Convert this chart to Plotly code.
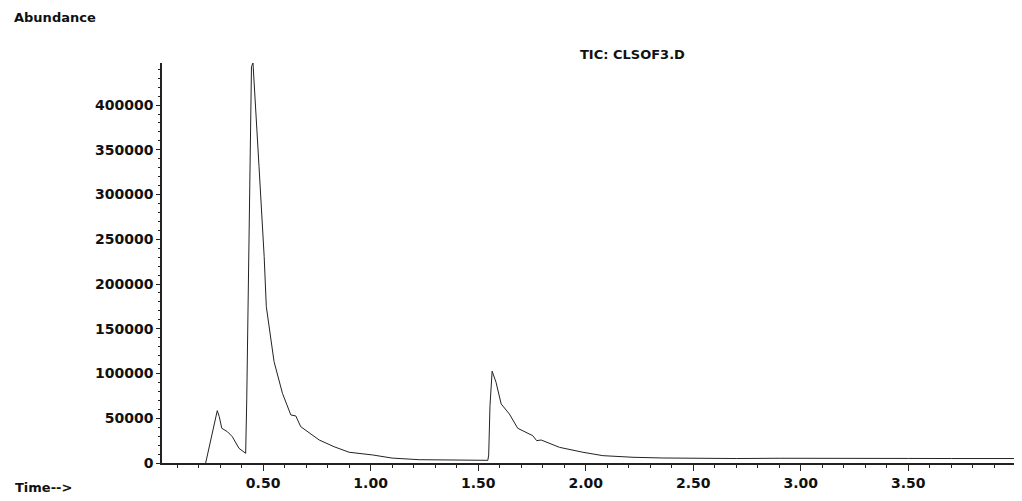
import plotly.graph_objects as go

# Retention time (min) and abundance
time_min = [0.233, 0.287, 0.296, 0.308, 0.334, 0.357, 0.388, 0.419, 0.424, 0.432, 0.439, 0.446,
            0.453, 0.460, 0.469, 0.481, 0.505, 0.515, 0.551, 0.590, 0.629, 0.652, 0.675, 0.730,
            0.761, 0.830, 0.900, 1.009, 1.100, 1.226, 1.300, 1.400, 1.500, 1.545, 1.549, 1.555,
            1.565, 1.583, 1.607, 1.645, 1.684, 1.754, 1.772, 1.793, 1.878, 1.987, 2.080, 2.220,
            2.358, 2.500, 2.700, 2.900, 3.100, 3.300, 3.500, 3.700, 3.900, 4.010]
abundance = [0, 58500, 52000, 38800, 35000, 29400, 16400, 10800, 70500, 219600, 346800, 443000,
             447000, 420000, 383700, 331500, 230800, 174800, 113300, 77900, 53700, 52600, 40600, 31300,
             25700, 18200, 12000, 9000, 5500, 3700, 3500, 3200, 3000, 3000, 9000, 64000,
             102600, 90300, 66000, 54800, 38800, 30500, 25000, 25700, 17500, 12000, 8200, 6400,
             5600, 5200, 5000, 5300, 5000, 5200, 5100, 5000, 5200, 5000]

y_ticks = [0, 50000, 100000, 150000, 200000, 250000, 300000, 350000, 400000]
x_ticks = [0.5, 1.0, 1.5, 2.0, 2.5, 3.0, 3.5]
x_labels = ["0.50", "1.00", "1.50", "2.00", "2.50", "3.00", "3.50"]

font_main = "DejaVu Sans"
ink = "#111111"
tick_font = dict(family=font_main, size=14, color=ink, weight="bold")

fig = go.Figure()
fig.add_trace(go.Scatter(x=time_min, y=abundance, mode="lines",
                         line=dict(color="#222222", width=1), showlegend=False,
                         hoverinfo="skip"))

# page body has an 8px margin, so the figure is sized and offset for it
fig.update_layout(
    width=1014, height=493,
    margin=dict(l=154, r=4, t=55, b=38),
    paper_bgcolor="white", plot_bgcolor="white",
    font=dict(family=font_main, size=12, color=ink),
    xaxis=dict(range=[0.03, 4.01], tickmode="array", tickvals=x_ticks, ticktext=x_labels,
               showline=True, linecolor="#222222", linewidth=1.5, ticks="outside",
               ticklen=6, tickcolor="#222222", showgrid=False, zeroline=False,
               minor=dict(tickmode="linear", tick0=0, dtick=0.1, ticklen=3,
                          ticks="outside", tickcolor="#222222", showgrid=False),
               tickfont=tick_font),
    yaxis=dict(range=[0, 447000], tickmode="array", tickvals=y_ticks,
               ticktext=[str(v) for v in y_ticks],
               showline=True, linecolor="#222222", linewidth=1.5, ticks="outside",
               ticklen=4, tickcolor="#222222", showgrid=False, zeroline=False,
               minor=dict(tickmode="linear", tick0=0, dtick=10000, ticklen=2,
                          ticks="outside", tickcolor="#222222", showgrid=False),
               tickfont=tick_font),
)

fig.add_annotation(text="Abundance", xref="paper", yref="paper", x=-0.1752, y=1.115,
                   xanchor="left", yanchor="middle", showarrow=False,
                   font=dict(family=font_main, size=13, color=ink, weight="bold"))
fig.add_annotation(text="TIC: CLSOF3.D", xref="paper", yref="paper", x=0.6133, y=1.02,
                   xanchor="right", yanchor="middle", showarrow=False,
                   font=dict(family=font_main, size=13, color=ink, weight="bold"))
fig.add_annotation(text="Time-->", xref="paper", yref="paper", x=-0.174, y=-0.06,
                   xanchor="left", yanchor="middle", showarrow=False,
                   font=dict(family=font_main, size=13, color=ink, weight="bold"))

fig.write_html("out.html")
